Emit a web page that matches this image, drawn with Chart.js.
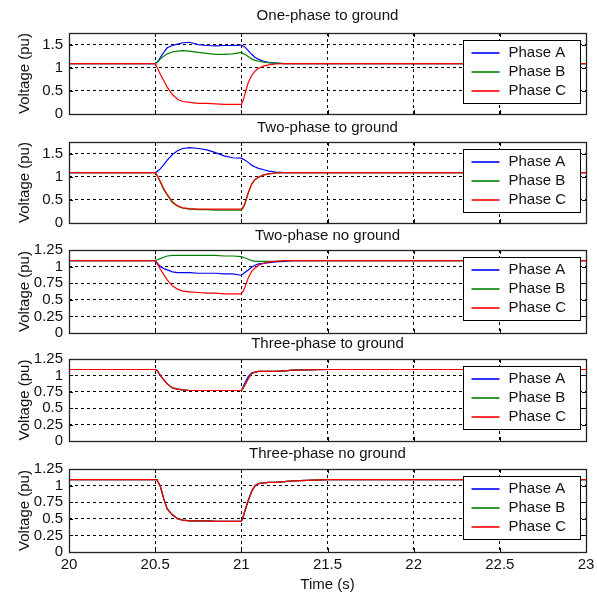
<!DOCTYPE html>
<html lang="en">
<head>
  <meta charset="UTF-8">
  <title>Voltage during faults</title>
  <script src="https://cdn.jsdelivr.net/npm/chart.js"></script>
  <style>
    html, body { margin: 0; padding: 0; background: #fff; }
    #wrap { position: relative; width: 597px; height: 597px; overflow: hidden; }
    #wrap canvas { position: absolute; left: 0; }
  </style>
</head>
<body>
  <div id="wrap"></div>

  <script>
    // sample times (s)
    const time = [20, 20.5, 20.51, 20.52, 20.53, 20.55, 20.57, 20.6, 20.63, 20.66, 20.7, 20.75, 20.8, 20.85, 20.9, 20.95,
                  21, 21.01, 21.02, 21.04, 21.06, 21.08, 21.1, 21.13, 21.16, 21.2, 21.25, 21.3, 21.5, 22, 22.5, 23];

    // One-phase to ground
    const onePhaseA = [1.09, 1.09, 1.12, 1.16, 1.22, 1.33, 1.43, 1.48, 1.51, 1.54, 1.55, 1.50, 1.48, 1.47, 1.48, 1.48,
                       1.49, 1.47, 1.45, 1.37, 1.29, 1.22, 1.18, 1.14, 1.11, 1.10, 1.09, 1.09, 1.09, 1.09, 1.09, 1.09];
    const onePhaseB = [1.09, 1.09, 1.11, 1.15, 1.19, 1.25, 1.30, 1.34, 1.36, 1.37, 1.36, 1.33, 1.31, 1.29, 1.29, 1.30,
                       1.33, 1.31, 1.29, 1.24, 1.19, 1.16, 1.14, 1.12, 1.11, 1.10, 1.09, 1.09, 1.09, 1.09, 1.09, 1.09];
    const onePhaseC = [1.09, 1.09, 1.02, 0.94, 0.86, 0.72, 0.58, 0.42, 0.32, 0.27, 0.25, 0.23, 0.23, 0.22, 0.21, 0.21,
                       0.21, 0.28, 0.42, 0.68, 0.83, 0.93, 0.99, 1.04, 1.06, 1.08, 1.09, 1.09, 1.09, 1.09, 1.09, 1.09];

    // Two-phase to ground
    const twoGroundA = [1.09, 1.09, 1.11, 1.14, 1.17, 1.26, 1.36, 1.48, 1.56, 1.61, 1.63, 1.61, 1.58, 1.52, 1.45, 1.41,
                        1.40, 1.38, 1.36, 1.31, 1.25, 1.21, 1.18, 1.15, 1.12, 1.10, 1.09, 1.09, 1.09, 1.09, 1.09, 1.09];
    const twoGroundB = [1.09, 1.09, 1.03, 0.96, 0.88, 0.72, 0.60, 0.44, 0.36, 0.32, 0.30, 0.29, 0.29, 0.28, 0.28, 0.28,
                        0.28, 0.32, 0.40, 0.64, 0.84, 0.94, 0.99, 1.04, 1.06, 1.08, 1.09, 1.09, 1.09, 1.09, 1.09, 1.09];
    const twoGroundC = [1.09, 1.09, 1.04, 0.97, 0.90, 0.74, 0.62, 0.46, 0.37, 0.33, 0.31, 0.30, 0.30, 0.30, 0.30, 0.30,
                        0.30, 0.34, 0.42, 0.66, 0.84, 0.94, 0.99, 1.04, 1.06, 1.08, 1.09, 1.09, 1.09, 1.09, 1.09, 1.09];

    // Two-phase no ground
    const twoNoGroundA = [1.09, 1.09, 1.06, 1.03, 1.00, 0.97, 0.95, 0.92, 0.91, 0.91, 0.91, 0.90, 0.90, 0.90, 0.89, 0.89,
                          0.87, 0.89, 0.91, 0.95, 0.99, 1.02, 1.04, 1.05, 1.06, 1.07, 1.08, 1.09, 1.09, 1.09, 1.09, 1.09];
    const twoNoGroundB = [1.09, 1.09, 1.10, 1.11, 1.12, 1.14, 1.16, 1.17, 1.17, 1.17, 1.17, 1.17, 1.17, 1.17, 1.16, 1.16,
                          1.15, 1.14, 1.13, 1.11, 1.09, 1.08, 1.08, 1.08, 1.08, 1.08, 1.09, 1.09, 1.09, 1.09, 1.09, 1.09];
    const twoNoGroundC = [1.09, 1.09, 1.05, 1.01, 0.96, 0.88, 0.80, 0.71, 0.66, 0.63, 0.62, 0.61, 0.60, 0.60, 0.59, 0.59,
                          0.59, 0.63, 0.68, 0.83, 0.93, 0.98, 1.02, 1.05, 1.07, 1.08, 1.09, 1.09, 1.09, 1.09, 1.09, 1.09];

    // Three-phase to ground
    const threeGroundA = [1.09, 1.09, 1.08, 1.04, 1.00, 0.93, 0.87, 0.81, 0.79, 0.78, 0.77, 0.77, 0.77, 0.77, 0.77, 0.77,
                          0.77, 0.82, 0.88, 0.98, 1.04, 1.05, 1.06, 1.06, 1.06, 1.06, 1.07, 1.08, 1.09, 1.09, 1.09, 1.09];
    const threeGroundB = [1.09, 1.09, 1.08, 1.04, 1.00, 0.93, 0.87, 0.81, 0.79, 0.78, 0.77, 0.77, 0.77, 0.77, 0.77, 0.77,
                          0.77, 0.80, 0.85, 0.95, 1.03, 1.05, 1.06, 1.06, 1.06, 1.06, 1.07, 1.08, 1.09, 1.09, 1.09, 1.09];
    const threeGroundC = [1.09, 1.09, 1.08, 1.04, 1.00, 0.93, 0.87, 0.81, 0.79, 0.78, 0.77, 0.77, 0.77, 0.77, 0.77, 0.77,
                          0.77, 0.80, 0.85, 0.95, 1.03, 1.05, 1.06, 1.06, 1.06, 1.06, 1.07, 1.08, 1.09, 1.09, 1.09, 1.09];

    // Three-phase no ground
    const threeNoGroundA = [1.09, 1.09, 1.09, 1.04, 0.99, 0.80, 0.65, 0.56, 0.50, 0.48, 0.47, 0.47, 0.47, 0.46, 0.46, 0.46,
                            0.46, 0.53, 0.62, 0.78, 0.92, 1.00, 1.03, 1.04, 1.05, 1.05, 1.06, 1.07, 1.09, 1.09, 1.09, 1.09];
    const threeNoGroundB = [1.09, 1.09, 1.09, 1.04, 0.99, 0.80, 0.65, 0.56, 0.50, 0.48, 0.47, 0.47, 0.47, 0.46, 0.46, 0.46,
                            0.46, 0.52, 0.61, 0.77, 0.91, 1.00, 1.03, 1.04, 1.05, 1.05, 1.06, 1.07, 1.09, 1.09, 1.09, 1.09];
    const threeNoGroundC = [1.09, 1.09, 1.09, 1.04, 0.99, 0.80, 0.65, 0.56, 0.50, 0.48, 0.47, 0.47, 0.47, 0.46, 0.46, 0.46,
                            0.46, 0.52, 0.61, 0.77, 0.91, 1.00, 1.03, 1.04, 1.05, 1.05, 1.06, 1.07, 1.09, 1.09, 1.09, 1.09];

    const titles = ['One-phase to ground', 'Two-phase to ground', 'Two-phase no ground', 'Three-phase to ground', 'Three-phase no ground'];
    const phaseLabels = ['Phase A', 'Phase B', 'Phase C'];
    const phaseColors = ['#0000ff', '#008000', '#ff0000'];
    const xTicks = [20, 20.5, 21, 21.5, 22, 22.5, 23];
    const yTicksHigh = [0, 0.5, 1, 1.5];
    const yTicksLow = [0, 0.25, 0.5, 0.75, 1, 1.25];

    const series = [
      [onePhaseA, onePhaseB, onePhaseC],
      [twoGroundA, twoGroundB, twoGroundC],
      [twoNoGroundA, twoNoGroundB, twoNoGroundC],
      [threeGroundA, threeGroundB, threeGroundC],
      [threeNoGroundA, threeNoGroundB, threeNoGroundC]
    ];
    const yMaxes = [1.75, 1.75, 1.25, 1.25, 1.25];
    const yTickSets = [yTicksHigh, yTicksHigh, yTicksLow, yTicksLow, yTicksLow];

    // plot area top / bottom in page pixels
    const plotTops = [33, 142, 250, 359, 469];
    const plotBottoms = [114, 223, 333, 441, 552];
    const titleOffsets = [17, 14, 14, 15, 15];
    const titleGap = 30;
    const bottomRoom = 12; // room under the plot for the "0" tick label

    Chart.defaults.font.family = '"Liberation Sans", Arial, sans-serif';
    Chart.defaults.font.size = 15;
    Chart.defaults.color = '#111';

    // panel title above the plot area
    const panelTitle = {
      id: 'panelTitle',
      afterDraw(chart, args, opts) {
        const { ctx, chartArea } = chart;
        ctx.save();
        ctx.font = '15px "Liberation Sans", Arial, sans-serif';
        ctx.fillStyle = '#111';
        ctx.textAlign = 'center';
        ctx.textBaseline = 'middle';
        ctx.fillText(opts.text, (chartArea.left + chartArea.right) / 2, chartArea.top - opts.offset);
        ctx.restore();
      }
    };

    // box round the axes, inner tick marks, and legend box
    const frameAndLegend = {
      id: 'frameAndLegend',
      afterDatasetsDraw(chart) {
        const { ctx, chartArea } = chart;
        const { left, right, top, bottom } = chartArea;
        const xs = chart.scales.x, ys = chart.scales.y;
        ctx.save();
        ctx.strokeStyle = '#000';
        ctx.lineWidth = 1;
        ctx.setLineDash([]);
        ctx.beginPath();
        xs.ticks.forEach(t => {
          const px = Math.round(xs.getPixelForValue(t.value)) + 0.5;
          ctx.moveTo(px, bottom); ctx.lineTo(px, bottom - 4);
          ctx.moveTo(px, top); ctx.lineTo(px, top + 4);
        });
        ys.ticks.forEach(t => {
          const py = Math.round(ys.getPixelForValue(t.value)) + 0.5;
          ctx.moveTo(left, py); ctx.lineTo(left + 4, py);
          ctx.moveTo(right, py); ctx.lineTo(right - 4, py);
        });
        ctx.stroke();
        ctx.lineWidth = 1.3;
        ctx.strokeStyle = '#222';
        ctx.strokeRect(Math.round(left) + 0.5, Math.round(top) + 0.5, Math.round(right - left), Math.round(bottom - top));

        // legend
        const bw = 117, bh = 63;
        const bx = Math.round(right - 6 - bw) + 0.5, by = Math.round(top + 7) + 0.5;
        ctx.fillStyle = '#fff';
        ctx.fillRect(bx, by, bw, bh);
        ctx.lineWidth = 1;
        ctx.strokeStyle = '#000';
        ctx.strokeRect(bx, by, bw, bh);
        ctx.font = '15px "Liberation Sans", Arial, sans-serif';
        ctx.textBaseline = 'middle';
        ctx.textAlign = 'left';
        chart.data.datasets.forEach((ds, i) => {
          const ly = Math.round(by + 12 + i * 19.3);
          ctx.lineWidth = 1.6;
          ctx.strokeStyle = ds.borderColor;
          ctx.beginPath();
          ctx.moveTo(bx + 8, ly);
          ctx.lineTo(bx + 36, ly);
          ctx.stroke();
          ctx.fillStyle = '#111';
          ctx.fillText(ds.label, bx + 45, ly);
        });
        ctx.restore();
      }
    };

    const wrap = document.getElementById('wrap');

    titles.forEach((title, p) => {
      const last = p === titles.length - 1;
      const xAxisHeight = last ? 45 : 2;
      const padBottom = last ? 0 : bottomRoom;
      const canvasTop = plotTops[p] - titleGap;
      const canvasHeight = last ? 597 - canvasTop : plotBottoms[p] - canvasTop + xAxisHeight + padBottom;

      const canvas = document.createElement('canvas');
      canvas.width = 597;
      canvas.height = canvasHeight;
      canvas.style.top = canvasTop + 'px';
      wrap.appendChild(canvas);

      const yTicks = yTickSets[p];

      new Chart(canvas.getContext('2d'), {
        type: 'line',
        data: {
          datasets: series[p].map((vals, i) => ({
            label: phaseLabels[i],
            data: vals.map((v, k) => ({ x: time[k], y: v })),
            borderColor: phaseColors[i],
            backgroundColor: phaseColors[i],
            borderWidth: 1.2,
            pointRadius: 0,
            tension: 0,
            order: 2 - i
          }))
        },
        options: {
          responsive: false,
          animation: false,
          events: [],
          layout: { padding: { top: titleGap, right: 11, left: 0, bottom: padBottom } },
          plugins: {
            legend: { display: false },
            tooltip: { enabled: false },
            panelTitle: { text: title, offset: titleOffsets[p] }
          },
          scales: {
            x: {
              type: 'linear',
              min: 20,
              max: 23,
              afterBuildTicks: axis => { axis.ticks = xTicks.map(v => ({ value: v })); },
              afterFit: axis => {
                axis.height = xAxisHeight;
                axis.paddingLeft = 0;
                axis.paddingRight = 0;
              },
              ticks: {
                display: last,
                autoSkip: false,
                padding: 4,
                maxRotation: 0,
                callback: v => String(v)
              },
              grid: { color: '#000', lineWidth: 1, drawTicks: false },
              border: { display: false, dash: [3, 3] },
              title: {
                display: last,
                text: 'Time (s)',
                padding: { top: 0, bottom: 3 }
              }
            },
            y: {
              min: 0,
              max: yMaxes[p],
              afterBuildTicks: axis => { axis.ticks = yTicks.map(v => ({ value: v })); },
              afterFit: axis => {
                axis.width = 69;
                axis.paddingTop = 0;
                axis.paddingBottom = 0;
              },
              ticks: {
                autoSkip: false,
                padding: 6,
                callback: v => String(v)
              },
              grid: { color: '#000', lineWidth: 1, drawTicks: false },
              border: { display: false, dash: [3, 3] },
              title: {
                display: true,
                text: 'Voltage (pu)',
                padding: { top: 16, bottom: 0 }
              }
            }
          }
        },
        plugins: [panelTitle, frameAndLegend]
      });
    });
  </script>
</body>
</html>
